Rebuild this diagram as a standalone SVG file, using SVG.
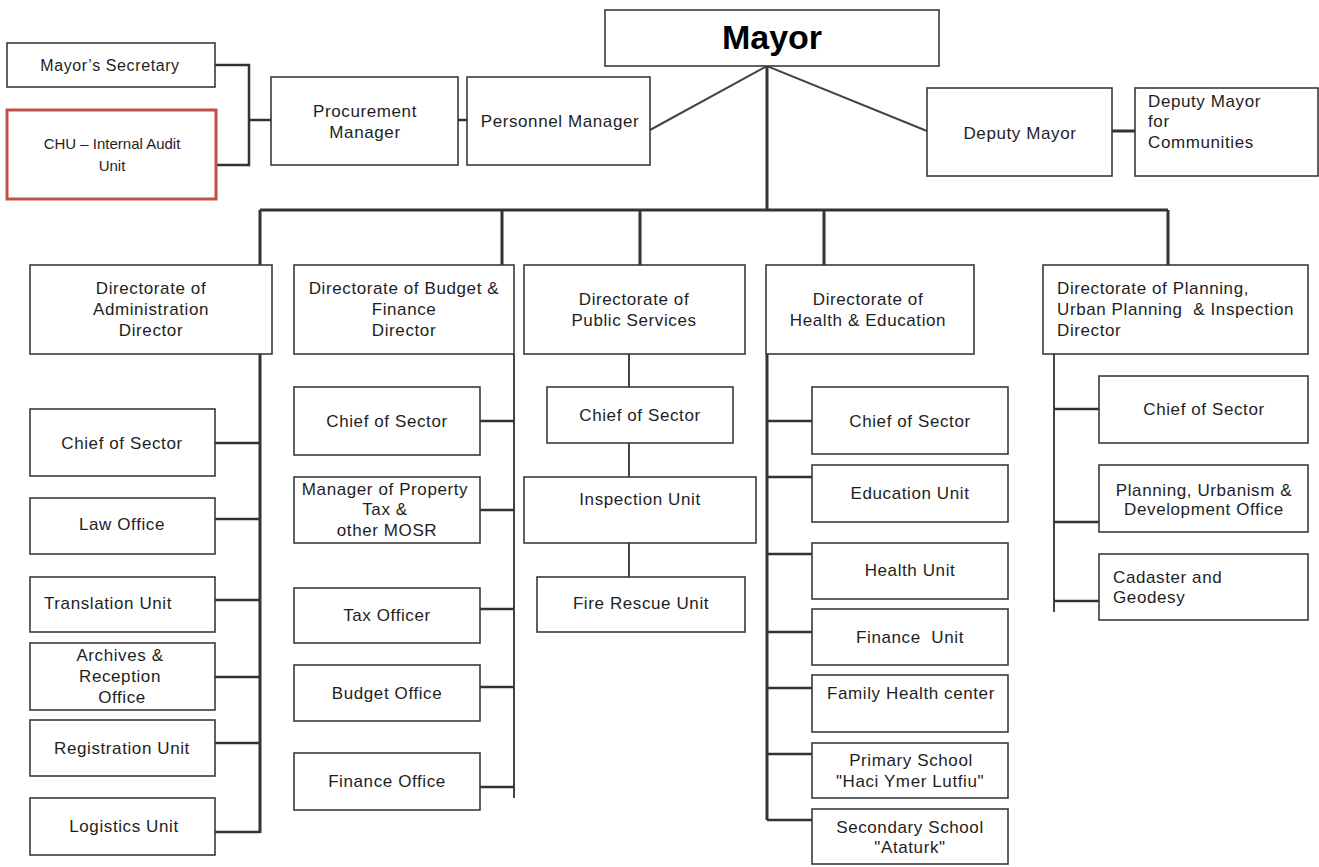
<svg xmlns="http://www.w3.org/2000/svg" width="1319" height="867" viewBox="0 0 1319 867">
<style>
  .box { fill: #ffffff; stroke: #3a3a3a; stroke-width: 1.6; }
  .red { fill: #ffffff; stroke: #c0504d; stroke-width: 3; }
  .t { font-family: "Liberation Sans", Arial, sans-serif; font-size: 17px; fill: #1e1e1e; letter-spacing: 0.6px; text-anchor: middle; }
  .l { text-anchor: start; }
  .big { font-size: 34px; font-weight: bold; letter-spacing: 0; fill: #000; }
  .sm { font-size: 15px; letter-spacing: 0; }
  .c { fill: none; stroke: #333333; stroke-width: 2.5; }
  .c2 { fill: none; stroke: #444444; stroke-width: 2; }
  .thick { fill: none; stroke: #333333; stroke-width: 3; }
</style>
<rect width="1319" height="867" fill="#ffffff"/>

<g id="connectors">
  <path class="c2" d="M650,130 L767,66 L927,131"/>
  <path class="thick" d="M767,66 V210 M260,210 H1168 M260,210 V265 M502,210 V265 M640,210 V265 M824,210 V265 M1168,210 V265"/>
  <path class="thick" d="M1112,131 H1135"/>
  <path class="c" d="M215,65 H249 V165 H216 M249,120 H271 M458,120 H467"/>
  <!-- Administration -->
  <path class="thick" d="M260,354 V833"/>
  <path class="c" d="M215,443 H260 M215,519 H260 M215,600 H260 M215,677 H260 M215,743 H260 M215,832 H260"/>
  <!-- Budget -->
  <path class="c2" d="M514,354 V798"/>
  <path class="c" d="M480,421 H514 M480,510 H514 M480,609 H514 M480,687 H514 M480,787 H514"/>
  <!-- Public services -->
  <path class="c2" d="M629,354 V387 M629,443 V477 M629,543 V577"/>
  <!-- Health -->
  <path class="thick" d="M767,354 V820"/>
  <path class="c" d="M767,421 H812 M767,477 H812 M767,554 H812 M767,632 H812 M767,688 H812 M767,754 H812 M767,820 H812"/>
  <!-- Planning -->
  <path class="c2" d="M1054,354 V612"/>
  <path class="c" d="M1054,409 H1099 M1054,522 H1099 M1054,601 H1099"/>
</g>

<g id="mayor"><rect class="box" x="605" y="10" width="334" height="56"/><text class="t big" x="772" y="49">Mayor</text></g>
<g id="secretary"><rect class="box" x="7" y="43" width="208" height="44"/><text class="t" x="110" y="71" style="font-size:16px">Mayor’s Secretary</text></g>
<g id="chu"><rect class="red" x="7" y="110" width="209" height="89"/><text class="t sm" x="112" y="149">CHU – Internal Audit</text><text class="t sm" x="112" y="171">Unit</text></g>
<g id="procurement"><rect class="box" x="271" y="77" width="187" height="88"/><text class="t" x="365" y="117">Procurement</text><text class="t" x="365" y="138">Manager</text></g>
<g id="personnel"><rect class="box" x="467" y="77" width="183" height="88"/><text class="t" x="560" y="127">Personnel Manager</text></g>
<g id="deputy"><rect class="box" x="927" y="88" width="185" height="88"/><text class="t" x="1020" y="139">Deputy Mayor</text></g>
<g id="deputy-communities"><rect class="box" x="1135" y="88" width="183" height="88"/><text class="t l" x="1148" y="107">Deputy Mayor</text><text class="t l" x="1148" y="127">for</text><text class="t l" x="1148" y="148">Communities</text></g>

<g id="dir-admin"><rect class="box" x="30" y="265" width="242" height="89"/><text class="t" x="151" y="294">Directorate of</text><text class="t" x="151" y="315">Administration</text><text class="t" x="151" y="336">Director</text></g>
<g id="dir-budget"><rect class="box" x="294" y="265" width="220" height="89"/><text class="t" x="404" y="294">Directorate of Budget &amp;</text><text class="t" x="404" y="315">Finance</text><text class="t" x="404" y="336">Director</text></g>
<g id="dir-public"><rect class="box" x="524" y="265" width="221" height="89"/><text class="t" x="634" y="305">Directorate of</text><text class="t" x="634" y="326">Public Services</text></g>
<g id="dir-health"><rect class="box" x="766" y="265" width="208" height="89"/><text class="t" x="868" y="305">Directorate of</text><text class="t" x="868" y="326">Health &amp; Education</text></g>
<g id="dir-planning"><rect class="box" x="1043" y="265" width="265" height="89"/><text class="t l" x="1057" y="294">Directorate of Planning,</text><text class="t l" x="1057" y="315" xml:space="preserve">Urban Planning  &amp; Inspection</text><text class="t l" x="1057" y="336">Director</text></g>

<g id="adm-chief"><rect class="box" x="30" y="409" width="185" height="67"/><text class="t" x="122" y="449">Chief of Sector</text></g>
<g id="adm-law"><rect class="box" x="30" y="498" width="185" height="56"/><text class="t" x="122" y="530">Law Office</text></g>
<g id="adm-translation"><rect class="box" x="30" y="577" width="185" height="55"/><text class="t l" x="44" y="609">Translation Unit</text></g>
<g id="adm-archives"><rect class="box" x="30" y="643" width="185" height="67"/><text class="t" x="120" y="661">Archives &amp;</text><text class="t" x="120" y="682">Reception</text><text class="t" x="122" y="703">Office</text></g>
<g id="adm-registration"><rect class="box" x="30" y="720" width="185" height="56"/><text class="t" x="122" y="754">Registration Unit</text></g>
<g id="adm-logistics"><rect class="box" x="30" y="798" width="185" height="57"/><text class="t" x="124" y="832">Logistics Unit</text></g>

<g id="bud-chief"><rect class="box" x="294" y="387" width="186" height="68"/><text class="t" x="387" y="427">Chief of Sector</text></g>
<g id="bud-property"><rect class="box" x="294" y="477" width="186" height="66"/><text class="t" x="385" y="495">Manager of Property</text><text class="t" x="385" y="515">Tax &amp;</text><text class="t" x="387" y="536">other MOSR</text></g>
<g id="bud-tax"><rect class="box" x="294" y="588" width="186" height="55"/><text class="t" x="387" y="621">Tax Officer</text></g>
<g id="bud-budget"><rect class="box" x="294" y="665" width="186" height="56"/><text class="t" x="387" y="699">Budget Office</text></g>
<g id="bud-finance"><rect class="box" x="294" y="753" width="186" height="57"/><text class="t" x="387" y="787">Finance Office</text></g>

<g id="pub-chief"><rect class="box" x="547" y="387" width="186" height="56"/><text class="t" x="640" y="421">Chief of Sector</text></g>
<g id="pub-inspection"><rect class="box" x="524" y="477" width="232" height="66"/><text class="t" x="640" y="505">Inspection Unit</text></g>
<g id="pub-fire"><rect class="box" x="537" y="577" width="208" height="55"/><text class="t" x="641" y="609">Fire Rescue Unit</text></g>

<g id="hea-chief"><rect class="box" x="812" y="387" width="196" height="67"/><text class="t" x="910" y="427">Chief of Sector</text></g>
<g id="hea-education"><rect class="box" x="812" y="465" width="196" height="57"/><text class="t" x="910" y="499">Education Unit</text></g>
<g id="hea-health"><rect class="box" x="812" y="543" width="196" height="56"/><text class="t" x="910" y="576">Health Unit</text></g>
<g id="hea-finance"><rect class="box" x="812" y="609" width="196" height="56"/><text class="t" x="910" y="643" xml:space="preserve">Finance  Unit</text></g>
<g id="hea-family"><rect class="box" x="812" y="675" width="196" height="57"/><text class="t" x="911" y="699">Family Health  center</text></g>
<g id="hea-primary"><rect class="box" x="812" y="743" width="196" height="55"/><text class="t" x="911" y="766">Primary School</text><text class="t" x="910" y="787">"Haci Ymer Lutfiu"</text></g>
<g id="hea-secondary"><rect class="box" x="812" y="809" width="196" height="55"/><text class="t" x="910" y="833">Secondary School</text><text class="t" x="910" y="853">"Ataturk"</text></g>

<g id="pla-chief"><rect class="box" x="1099" y="376" width="209" height="67"/><text class="t" x="1204" y="415">Chief of Sector</text></g>
<g id="pla-urbanism"><rect class="box" x="1099" y="465" width="209" height="67"/><text class="t" x="1204" y="496">Planning, Urbanism &amp;</text><text class="t" x="1204" y="515">Development Office</text></g>
<g id="pla-cadaster"><rect class="box" x="1099" y="554" width="209" height="66"/><text class="t l" x="1113" y="583">Cadaster and</text><text class="t l" x="1113" y="603">Geodesy</text></g>
</svg>
